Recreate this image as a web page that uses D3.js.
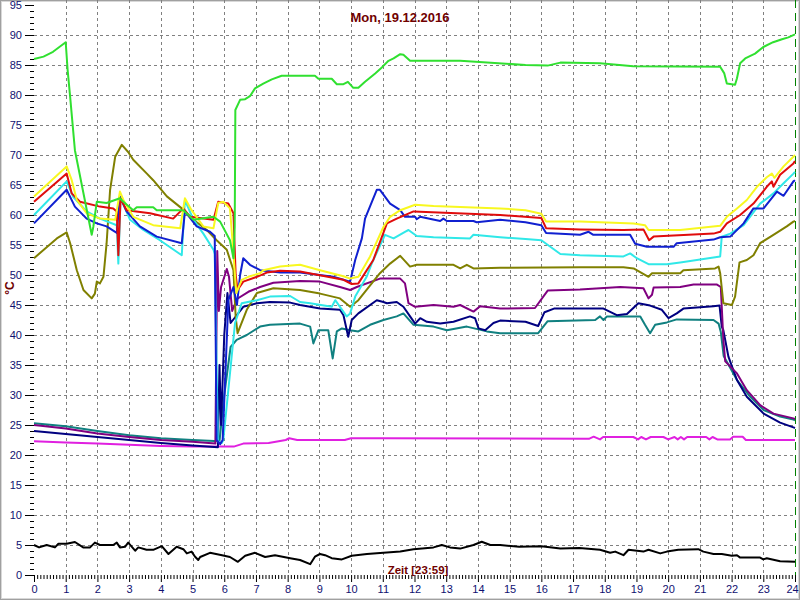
<!DOCTYPE html>
<html><head><meta charset="utf-8">
<script src="https://cdn.jsdelivr.net/npm/d3@7"></script>
<style>body{margin:0;background:#fff}svg{display:block}</style>
</head><body>
<svg id="c" width="800" height="600"></svg>
<script>
const title = "Mon, 19.12.2016";
const xLabel = "Zeit [23:59]";
const yLabel = "°C";
const hourTicks = d3.range(0, 25);
const tempTicks = d3.range(0, 96, 5);

const green = [[0,86],[0.3,86.4],[0.6,87.2],[1.0,88.8],[1.06,84.2],[1.14,79.7],[1.29,70.8],[1.82,56.7],[1.87,58],[1.98,62.2],[2.29,62.0],[2.71,62.8],[2.8,62.3],[3.13,60.8],[3.24,61.3],[3.76,61.3],[3.87,60.8],[4.71,60.8],[5.03,59.2],[5.66,59.7],[5.87,58.9],[6.18,55.8],[6.29,52.8],[6.33,58],[6.35,77.5],[6.50,79.2],[6.66,79.3],[6.81,79.8],[6.97,81.1],[7.23,81.9],[7.50,82.6],[7.81,83.2],[8.86,83.2],[8.97,82.7],[9.39,82.7],[9.55,81.8],[9.76,81.8],[9.90,82.2],[10.07,81.2],[10.23,81.2],[10.44,82.2],[10.76,83.6],[10.97,84.6],[11.18,85.7],[11.34,86.1],[11.55,86.8],[11.65,86.7],[11.86,85.7],[13.44,85.7],[15.5,85.0],[16.2,84.9],[16.6,85.4],[17.85,85.3],[18.9,84.8],[21.64,84.7],[21.77,83.6],[21.85,81.9],[22.11,81.7],[22.17,82.8],[22.27,85.3],[22.43,86.1],[22.74,86.9],[23.0,88.0],[23.31,88.8],[23.59,89.3],[23.79,89.6],[24,90.1]];
const yellow = [[0,63.1],[1.03,68.1],[1.19,65.8],[1.35,62.5],[1.66,60.3],[2.08,59.4],[2.56,59.2],[2.71,63.9],[2.82,62.5],[3.13,59.7],[3.76,58.3],[4.61,57.8],[4.76,62.8],[4.97,60.8],[5.34,58.1],[5.66,57.8],[5.81,62.0],[5.97,62.2],[6.18,61.1],[6.27,55],[6.38,47],[6.55,49.2],[6.76,49.7],[7.13,50.3],[7.23,50.8],[7.76,51.4],[8.39,51.7],[9.02,50.8],[9.76,49.8],[9.97,49.4],[10.23,49.7],[10.60,53.1],[11.02,58],[11.23,59.7],[11.55,60.8],[12.02,61.7],[12.6,61.5],[14.7,61.1],[15.5,60.8],[16.0,60.2],[16.15,58.9],[17.22,58.9],[18.91,58.6],[19.27,58.3],[19.38,57.5],[20.38,57.5],[21.64,58.2],[21.85,59.7],[22.17,61.1],[22.48,62.5],[22.80,64.7],[23.11,66.3],[23.27,66.9],[23.35,66.2],[23.64,68.1],[23.95,69.7],[24,70.0]];
const red = [[0,62.2],[1.03,66.9],[1.19,63.6],[1.45,62.2],[2.08,61.4],[2.50,61.1],[2.61,60.6],[2.66,53.3],[2.73,62.8],[2.92,60.8],[3.66,60.3],[4.39,59.4],[4.71,61.1],[4.92,59.7],[5.66,59.2],[5.81,62.2],[6.13,61.9],[6.29,60.3],[6.36,50],[6.42,47.5],[6.6,48.9],[7.03,49.7],[7.34,50.4],[7.76,50.7],[8.39,50.6],[9.76,49.2],[10.02,48.5],[10.23,48.6],[10.70,52.5],[11.13,58.6],[11.44,59.4],[11.97,60.6],[14.7,60.0],[16.0,59.5],[16.15,57.8],[17.22,57.6],[18.59,57.5],[19.22,57.6],[19.40,55.8],[19.54,56.4],[21.43,56.9],[21.64,57.2],[21.85,58.6],[22.27,60.0],[22.69,61.9],[23.11,64.7],[23.27,65.6],[23.32,64.7],[23.53,66.7],[23.95,68.6],[24,69.0]];
const cyan = [[0,60],[1.03,65.6],[1.24,63],[1.66,60.6],[2.08,59.4],[2.61,58.3],[2.66,51.9],[2.73,62.8],[3.03,59.2],[3.45,57.5],[3.97,55.8],[4.66,53.3],[4.76,62.5],[5.03,59.2],[5.34,56.9],[5.66,54.2],[5.70,53.5],[5.80,22.3],[5.92,22],[5.97,22.5],[6.34,42],[6.55,45.3],[7.03,45.8],[7.44,46.4],[8.08,46.5],[8.39,45.5],[8.71,45.3],[9.39,44.7],[9.50,45.8],[9.86,43.1],[9.97,43.6],[10.13,46.4],[10.49,49.7],[10.65,51.9],[11.07,56.7],[11.34,56.1],[11.70,57.2],[11.81,57.5],[12.07,56.5],[12.6,56.3],[13.75,56.1],[13.86,56.7],[14.7,56.3],[15.5,56.0],[16.0,55.8],[16.6,53.5],[17.22,53.3],[18.59,53.1],[18.80,53.6],[19.01,52.8],[19.38,51.8],[19.96,51.8],[20.38,52.1],[21.64,53.1],[21.69,56.4],[21.96,56.9],[22.38,58.3],[22.90,61.9],[23.32,63.6],[23.64,65.3],[23.95,66.9],[24,67.2]];
const blue = [[0,58.6],[1.03,64.2],[1.29,61.4],[1.66,59.4],[1.98,58.6],[2.29,58.1],[2.56,57.2],[2.61,57.0],[2.71,63.1],[2.92,60.6],[3.34,58.1],[3.87,56.4],[4.66,55.3],[4.76,60.6],[5.13,58.1],[5.55,57.2],[5.70,56.5],[5.76,22.5],[5.87,21.8],[5.95,22.5],[6.13,45.8],[6.29,48],[6.4,45],[6.5,50],[6.60,52.8],[6.81,51.7],[7.13,50.8],[7.76,50.4],[8.39,50.4],[9.44,49.7],[9.97,48.9],[10.13,52.5],[10.34,56.1],[10.44,59.4],[10.81,64.2],[10.91,64.2],[11.23,61.9],[11.55,60.8],[11.70,59.7],[12.02,59.7],[12.07,59.3],[12.18,59.7],[12.81,59.0],[12.91,59.4],[13.02,59.0],[13.86,59.0],[13.96,58.8],[14.70,59.2],[15.5,58.8],[16.0,58.3],[16.15,57.0],[17.22,56.7],[17.49,57.2],[17.64,56.7],[18.80,56.7],[18.96,55.2],[19.33,54.7],[20.17,54.7],[20.27,55.3],[21.43,55.9],[21.64,56.3],[21.96,56.4],[22.38,58.6],[22.69,61.1],[23.01,61.1],[23.43,63.9],[23.64,63.2],[23.95,65.6],[24,65.8]];
const olive = [[0,52.8],[0.72,56.1],[1.03,57.1],[1.14,55.3],[1.35,50.8],[1.56,47.5],[1.82,46.1],[1.92,46.9],[1.98,48.9],[2.08,48.6],[2.19,49.7],[2.29,55.3],[2.40,64.2],[2.56,69.7],[2.77,71.7],[2.97,70.5],[3.13,69.2],[3.56,66.9],[3.76,65.8],[4.19,63.1],[4.66,61.1],[5.03,59.2],[5.45,57.5],[5.76,55.8],[6.08,54.2],[6.29,50.8],[6.36,43],[6.42,40.3],[6.71,44.2],[7.03,47],[7.55,47.8],[8.39,47.5],[9.02,46.9],[9.65,46.1],[9.97,44.7],[10.23,45.8],[10.91,50.3],[11.23,51.9],[11.55,53.2],[11.86,51.4],[12.07,51.7],[13.23,51.7],[13.44,51.1],[13.65,51.7],[13.86,51.1],[14.7,51.2],[17.22,51.3],[18.59,51.3],[18.91,51.1],[19.38,49.7],[19.49,50.3],[20.38,50.3],[20.48,50.8],[21.48,51.1],[21.59,51.4],[21.64,50.3],[21.74,45.3],[22.01,45.0],[22.11,46.4],[22.25,52.1],[22.48,52.5],[22.69,53.3],[22.90,55.3],[23.32,56.7],[23.74,58.1],[23.95,58.9],[24,59.0]];
const purple = [[0,25.0],[1,24.4],[2,23.6],[3,23.0],[4,22.5],[5,22.2],[5.72,21.9],[5.78,54],[5.83,44],[5.9,48],[6.08,51],[6.15,49.7],[6.25,44],[6.4,46],[6.76,47.2],[7.13,48],[7.55,48.7],[8.39,49],[9.02,48.9],[9.65,48],[9.97,47.5],[10.18,48],[10.91,49.4],[11.55,49.4],[11.70,48.6],[11.81,45.3],[12.02,44.7],[12.6,45],[13.23,44.7],[13.44,45],[13.86,43.9],[14.07,44.8],[14.7,44.4],[15.8,44.5],[16.2,47.4],[17.22,47.6],[18.49,48.0],[19.22,47.8],[19.38,46.1],[19.49,46.7],[19.54,47.9],[20.38,48.0],[20.80,48.4],[21.54,48.4],[21.66,48.0],[21.74,39.2],[21.80,35.6],[22.17,33.6],[22.48,30.8],[22.90,28.3],[23.32,26.9],[23.95,26.1],[24,26.0]];
const navy = [[0,24.0],[1,23.5],[2,23.0],[3,22.5],[4,22.0],[5,21.6],[5.8,21.3],[5.85,35],[5.9,25],[6.0,40],[6.1,47],[6.2,42],[6.35,43],[6.6,44.7],[7.03,45.3],[7.44,45.5],[8.08,45.4],[8.39,45],[9.02,44.4],[9.65,44.2],[9.76,43.3],[9.91,39.7],[10.02,42.5],[10.23,43.6],[10.81,45.8],[11.02,45.5],[11.13,45.3],[11.44,45.5],[11.65,44.7],[11.86,43.1],[12.02,41.9],[12.18,42.8],[12.39,42.2],[12.81,41.9],[13.23,42.2],[13.75,43.1],[13.91,42.8],[14.02,41.1],[14.23,40.8],[14.49,42],[14.7,42.4],[15.5,42.2],[15.9,41.5],[16.1,43.8],[16.4,44.4],[17.96,44.4],[18.38,43.3],[18.70,43.5],[19.06,45.3],[19.43,44.9],[19.80,44.2],[20.01,42.8],[20.27,43.6],[20.48,44.4],[21.43,44.8],[21.62,44.9],[21.69,41.4],[21.74,40.8],[21.90,36.4],[22.17,32.5],[22.48,29.7],[23.01,26.9],[23.53,25.4],[23.95,24.6],[24,24.5]];
const teal = [[0,25.3],[1,24.8],[2,24.0],[3,23.3],[4,22.8],[5,22.5],[5.85,22.3],[6.0,30],[6.2,38],[6.39,39.2],[6.71,40],[7.13,41.4],[7.44,41.7],[8.39,41.9],[8.71,41.4],[8.81,38.6],[8.97,40.8],[9.28,40.8],[9.42,36.1],[9.55,40.6],[9.71,41.1],[9.97,40.8],[10.23,40.6],[10.60,41.7],[11.02,42.5],[11.44,43.1],[11.65,43.6],[11.97,41.7],[12.6,41.4],[13.02,40.8],[13.65,41.4],[14.28,40.6],[14.7,40.3],[15.9,40.3],[16.2,42.3],[17.70,42.5],[17.85,43.1],[17.96,42.5],[18.07,43.1],[19.12,43.1],[19.27,41.7],[19.43,40.3],[19.59,41.7],[19.96,42.1],[20.27,42.6],[21.43,42.5],[21.59,41.9],[21.66,40.5],[21.75,36.5],[22.17,32.5],[22.59,29.7],[23.01,27.5],[23.53,26.4],[23.95,25.9],[24,25.8]];
const magenta = [[0,22.3],[1,22.1],[2,21.9],[3,21.7],[4,21.5],[5,21.4],[6.3,21.4],[6.6,21.9],[7.4,22.0],[7.94,22.5],[8.05,22.8],[8.3,22.5],[9.8,22.5],[10.0,22.8],[11,22.8],[17.5,22.7],[17.65,23.05],[17.85,22.6],[17.95,23.0],[18.9,23.0],[19.05,22.6],[19.15,23.0],[19.3,22.6],[19.45,23.0],[19.85,23.0],[20.0,22.6],[20.2,23.0],[20.3,22.6],[20.4,23.0],[20.5,22.6],[20.6,23.0],[21.2,23.0],[21.3,22.6],[21.4,23.0],[21.55,22.6],[21.95,22.6],[22.05,23.05],[22.35,23.05],[22.45,22.5],[24,22.5]];
const black = [[0,5.0],[0.16,4.6],[0.4,5.0],[0.66,4.6],[0.77,5.2],[1.03,5.2],[1.29,5.5],[1.55,4.6],[1.77,4.6],[1.92,5.4],[2.08,5.0],[2.5,5.0],[2.61,5.4],[2.71,4.6],[2.87,4.7],[2.97,5.4],[3.19,4.05],[3.29,4.6],[3.55,4.2],[3.76,4.2],[4.03,4.8],[4.24,3.5],[4.5,4.7],[4.71,4.3],[4.82,3.6],[4.97,3.9],[5.08,3.05],[5.18,2.5],[5.24,3.0],[5.55,3.7],[5.93,3.3],[6.18,3.0],[6.43,2.2],[6.66,3.2],[6.97,3.7],[7.29,3.0],[7.6,3.3],[8.08,2.8],[8.39,2.5],[8.71,1.8],[8.86,3.05],[9.02,3.5],[9.18,3.3],[9.39,2.8],[9.71,2.6],[10.02,3.2],[10.5,3.5],[11.02,3.7],[11.55,3.9],[11.97,4.3],[12.6,4.6],[12.86,5.0],[13.12,4.6],[13.44,4.4],[13.86,5.0],[14.12,5.55],[14.39,5.0],[14.7,5.0],[15.3,4.7],[16.0,4.8],[16.6,4.4],[17.2,4.5],[17.85,4.2],[18.17,3.7],[18.33,3.9],[18.59,3.3],[18.75,4.2],[19.22,3.9],[19.38,4.2],[19.75,3.6],[19.96,3.9],[20.32,4.2],[20.95,4.3],[21.11,3.9],[21.43,3.5],[21.69,3.5],[22.01,3.2],[22.17,3.3],[22.27,2.9],[22.9,2.9],[23.0,2.6],[23.11,2.8],[23.53,2.3],[24,2.2]];

const seriesList = [
  {data: black, color: "#000000"},
  {data: magenta, color: "#e020e0"},
  {data: teal, color: "#108080"},
  {data: navy, color: "#000080"},
  {data: purple, color: "#800080"},
  {data: olive, color: "#808000"},
  {data: cyan, color: "#30e8e8"},
  {data: blue, color: "#1020d0"},
  {data: red, color: "#e00c0c"},
  {data: yellow, color: "#f8f820"},
  {data: green, color: "#30e030"}
];

const svg = d3.select("#c");
const x = d3.scaleLinear().domain([0, 24]).range([34, 795]);
const y = d3.scaleLinear().domain([0, 95]).range([575, 5]);

svg.append("rect").attr("x",0.5).attr("y",0.5).attr("width",799).attr("height",599)
  .attr("fill","#fff").attr("stroke","#a0a0a0").attr("stroke-width",1);
svg.append("rect").attr("x",1.5).attr("y",1.5).attr("width",797).attr("height",597)
  .attr("fill","none").attr("stroke","#d8d8d8").attr("stroke-width",1);

// grid
const grid = svg.append("g").attr("stroke","#808080").attr("stroke-dasharray","3,3").attr("stroke-width",1);
grid.selectAll("line.h").data(tempTicks.filter(v => v > 0 && v < 95)).join("line")
  .attr("x1", x(0)).attr("x2", x(24)).attr("y1", d => Math.round(y(d)) + 0.5).attr("y2", d => Math.round(y(d)) + 0.5);
grid.selectAll("line.v").data(hourTicks.filter(h => h > 0 && h < 24)).join("line")
  .attr("y1", 0).attr("y2", y(0)).attr("x1", d => Math.round(x(d)) + 0.5).attr("x2", d => Math.round(x(d)) + 0.5);
svg.append("line").attr("x1", Math.round(x(24)) + 0.5).attr("x2", Math.round(x(24)) + 0.5)
  .attr("y1", 0).attr("y2", y(0)).attr("stroke","#008000").attr("stroke-dasharray","8,5").attr("stroke-width",1);

// axes
const axisFont = "Arial, 'Liberation Sans', sans-serif";
const yAxis = svg.append("g").attr("transform","translate(34,0)")
  .call(d3.axisLeft(y).tickValues(tempTicks).tickSize(9).tickPadding(3));
const yMinor = svg.append("g").attr("transform","translate(34,0)")
  .call(d3.axisLeft(y).tickValues(d3.range(0,96).filter(v => v % 5)).tickSize(4).tickFormat(""));
const xAxis = svg.append("g").attr("transform","translate(0,575)")
  .call(d3.axisBottom(x).tickValues(hourTicks).tickSize(7).tickPadding(3));
const xMinor = svg.append("g").attr("transform","translate(0,575)")
  .call(d3.axisBottom(x).tickValues(d3.range(0,240).filter(v => v % 10).map(v => v/10)).tickSize(4).tickFormat(""));
[yAxis, yMinor, xAxis, xMinor].forEach(g => {
  g.select(".domain").remove();
  g.selectAll("line").attr("stroke","#000");
  g.selectAll("text").attr("fill","#101070").style("font-family", axisFont).style("font-size","11px");
});
xAxis.selectAll(".tick").filter(d => d === 24).select("text").attr("dx", "-3");

// series
const line = d3.line().x(d => x(d[0])).y(d => y(d[1]));
svg.append("g").selectAll("path").data(seriesList).join("path")
  .attr("d", d => line(d.data)).attr("fill","none").attr("stroke", d => d.color)
  .attr("stroke-width", 2).attr("stroke-linejoin","round");

// labels
svg.append("text").attr("x", 400).attr("y", 22).attr("text-anchor","middle")
  .style("font-family", axisFont).style("font-size","13px").style("font-weight","bold")
  .attr("fill","#700000").text(title);
svg.append("text").attr("x", 418).attr("y", 574).attr("text-anchor","middle")
  .style("font-family", axisFont).style("font-size","11.5px").style("font-weight","bold")
  .attr("fill","#700000").text(xLabel);
svg.append("text").attr("transform","translate(14,288) rotate(-90)").attr("text-anchor","middle")
  .style("font-family", axisFont).style("font-size","12px").style("font-weight","bold")
  .attr("fill","#700000").text(yLabel);
</script>
</body></html>
